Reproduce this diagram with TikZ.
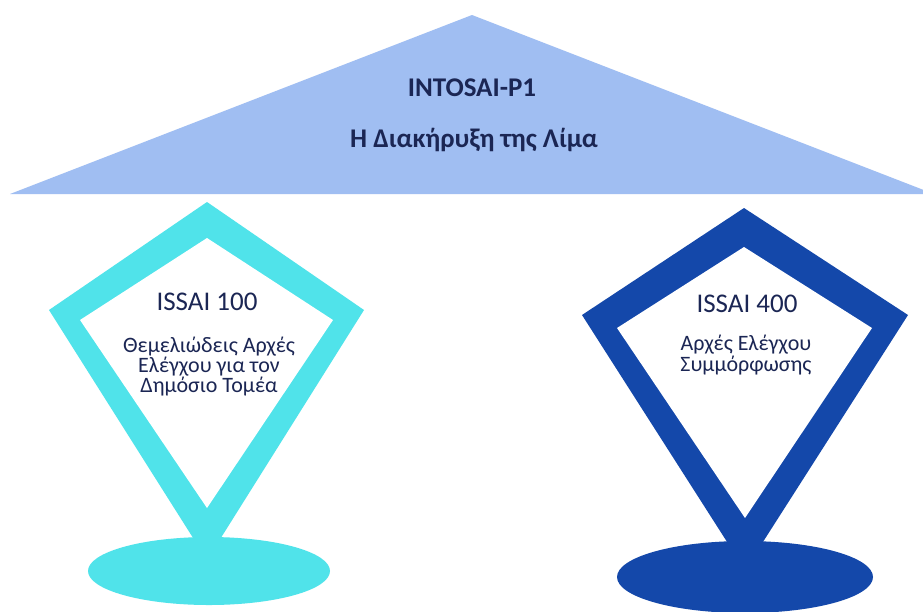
\documentclass[tikz,border=0pt]{standalone}
\usepackage{fontspec}
\setmainfont{Carlito}
\definecolor{roofblue}{RGB}{160,190,242}
\definecolor{cyanfill}{RGB}{80,227,234}
\definecolor{darkfill}{RGB}{20,72,170}
\definecolor{navytext}{RGB}{27,38,84}
\begin{document}
\begin{tikzpicture}[x=1pt,y=-1pt,
  rooftext/.style={font=\fontsize{27}{30}\selectfont\bfseries, text=navytext, anchor=base, inner sep=0pt},
  titletext/.style={font=\fontsize{27}{30}\selectfont, text=navytext, anchor=base, inner sep=0pt},
  desctext/.style={font=\fontsize{22}{20}\selectfont, text=navytext, anchor=base, inner sep=0pt},
  ]
\useasboundingbox (0,0) rectangle (923,611);
\clip (0,0) rectangle (923,611);
\fill[white] (0,0) rectangle (923,611);
% roof
\fill[roofblue] (472,15) -- (934,194) -- (10,194) -- cycle;
\node[rooftext] (roof1) at (472,96) {INTOSAI-P1};
\node[rooftext] (roof2) at (474,147) {Η Διακήρυξη της Λίμα};
% left sign
\fill[cyanfill] (207,202) -- (364,310) -- (207,560) -- (49,310) -- cycle;
\fill[white] (207,238) -- (333,320) -- (207,508) -- (80,320) -- cycle;
\fill[cyanfill] (209,571) ellipse [x radius=121, y radius=34];
\node[titletext] (l1) at (207,310) {ISSAI 100};
\node[desctext] (l2) at (209,352) {Θεμελιώδεις Αρχές};
\node[desctext] (l3) at (209,372) {Ελέγχου για τον};
\node[desctext] (l4) at (209,392) {Δημόσιο Τομέα};
% right sign
\fill[darkfill] (744,208) -- (908,315) -- (745,570) -- (582,315) -- cycle;
\fill[white] (744,247) -- (872,328) -- (745,518) -- (617,328) -- cycle;
\fill[darkfill] (745,577) ellipse [x radius=128, y radius=36];
\node[titletext] (r1) at (747,312) {ISSAI 400};
\node[desctext] (r2) at (746,350) {Αρχές Ελέγχου};
\node[desctext] (r3) at (746,371) {Συμμόρφωσης};
\end{tikzpicture}
\end{document}
